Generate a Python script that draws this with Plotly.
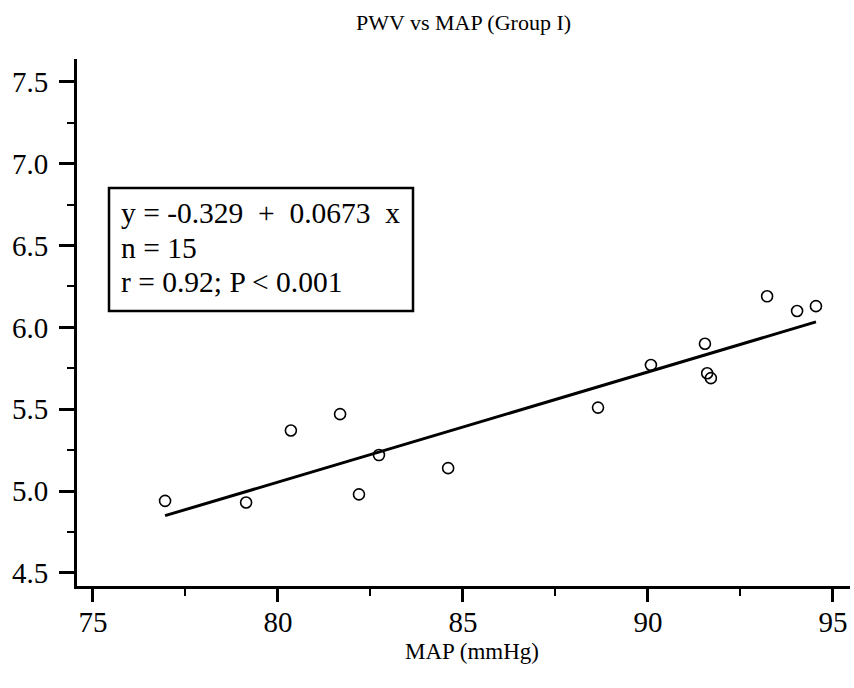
import plotly.graph_objects as go

# Data
map_mmhg = [76.95, 79.14, 80.35, 81.68, 82.19, 82.73, 84.60, 88.65, 90.08,
            91.54, 91.60, 91.70, 93.22, 94.03, 94.54]
pwv = [4.94, 4.93, 5.37, 5.47, 4.98, 5.22, 5.14, 5.51, 5.77,
       5.90, 5.72, 5.69, 6.19, 6.10, 6.13]

intercept = -0.329
slope = 0.0673
n_points = 15
r_value = 0.92

x_ticks = [75, 80, 85, 90, 95]
y_ticks = [4.5, 5.0, 5.5, 6.0, 6.5, 7.0, 7.5]
y_ticklabels = ["4.5", "5.0", "5.5", "6.0", "6.5", "7.0", "7.5"]

FONT = "Liberation Serif, Times New Roman, serif"

# layout geometry (pixels)
W, H = 854, 688
L, R, T, B = 77, 4, 59, 102
PW, PH = W - L - R, H - T - B


def px(x):
    return (x - L) / PW


def py(y):
    return (H - B - y) / PH


fit_x = [min(map_mmhg), max(map_mmhg)]
fit_y = [intercept + slope * v for v in fit_x]

fig = go.Figure()
fig.add_trace(go.Scatter(
    x=fit_x, y=fit_y, mode="lines",
    line=dict(color="black", width=3), showlegend=False, hoverinfo="skip"))
fig.add_trace(go.Scatter(
    x=map_mmhg, y=pwv, mode="markers",
    marker=dict(symbol="circle-open", size=11, color="black",
                line=dict(color="black", width=1.6)),
    showlegend=False))

# statistics box
nb = "\u00a0"
box_lines = [
    f"y = {intercept:.3f}{nb}{nb}+{nb}{nb}{slope:.4f}{nb}{nb}x",
    f"n = {n_points}",
    f"r = {r_value:.2f}; P &lt; 0.001",
]
fig.add_shape(type="rect", xref="paper", yref="paper",
              x0=px(109), x1=px(413), y0=py(311), y1=py(188),
              line=dict(color="black", width=2.5), fillcolor="white",
              layer="above")
for i, txt in enumerate(box_lines):
    fig.add_annotation(
        text=txt, xref="paper", yref="paper", x=px(119), y=py(213 + 34.5 * i),
        xanchor="left", yanchor="middle", align="left", showarrow=False,
        font=dict(family=FONT, size=29.5, color="black"))

# x-axis title
fig.add_annotation(
    text="MAP (mmHg)", xref="paper", yref="paper", x=px(472), y=py(651),
    xanchor="center", yanchor="middle", showarrow=False,
    font=dict(family=FONT, size=23, color="black"))

fig.update_layout(
    width=W, height=H,
    margin=dict(l=L, r=R, t=T, b=B),
    paper_bgcolor="white", plot_bgcolor="white",
    font=dict(family=FONT, color="black"),
    title=dict(text="PWV vs MAP (Group I)", x=0.5, xref="paper",
               y=1 - 22 / H, yref="container", yanchor="middle",
               xanchor="center", font=dict(family=FONT, size=22, color="black")),
    xaxis=dict(
        range=[74.57, 95.46], showgrid=False, zeroline=False,
        showline=True, linecolor="black", linewidth=3,
        ticks="outside", ticklen=13, tickwidth=3, tickcolor="black",
        tickvals=x_ticks, ticktext=[str(v) for v in x_ticks],
        tickfont=dict(family=FONT, size=29, color="black"),
        ticklabelstandoff=-5,
        minor=dict(dtick=2.5, tick0=75, ticks="outside", ticklen=7,
                   tickwidth=1.5, tickcolor="black", showgrid=False),
    ),
    yaxis=dict(
        range=[4.42, 7.64], showgrid=False, zeroline=False,
        showline=True, linecolor="black", linewidth=3,
        ticks="outside", ticklen=15, tickwidth=3, tickcolor="black",
        tickvals=y_ticks, ticktext=y_ticklabels,
        tickfont=dict(family=FONT, size=29, color="black"),
        ticklabelstandoff=5,
        minor=dict(dtick=0.25, tick0=4.5, ticks="outside", ticklen=7,
                   tickwidth=1.5, tickcolor="black", showgrid=False),
    ),
)

fig.write_html("out.html")
